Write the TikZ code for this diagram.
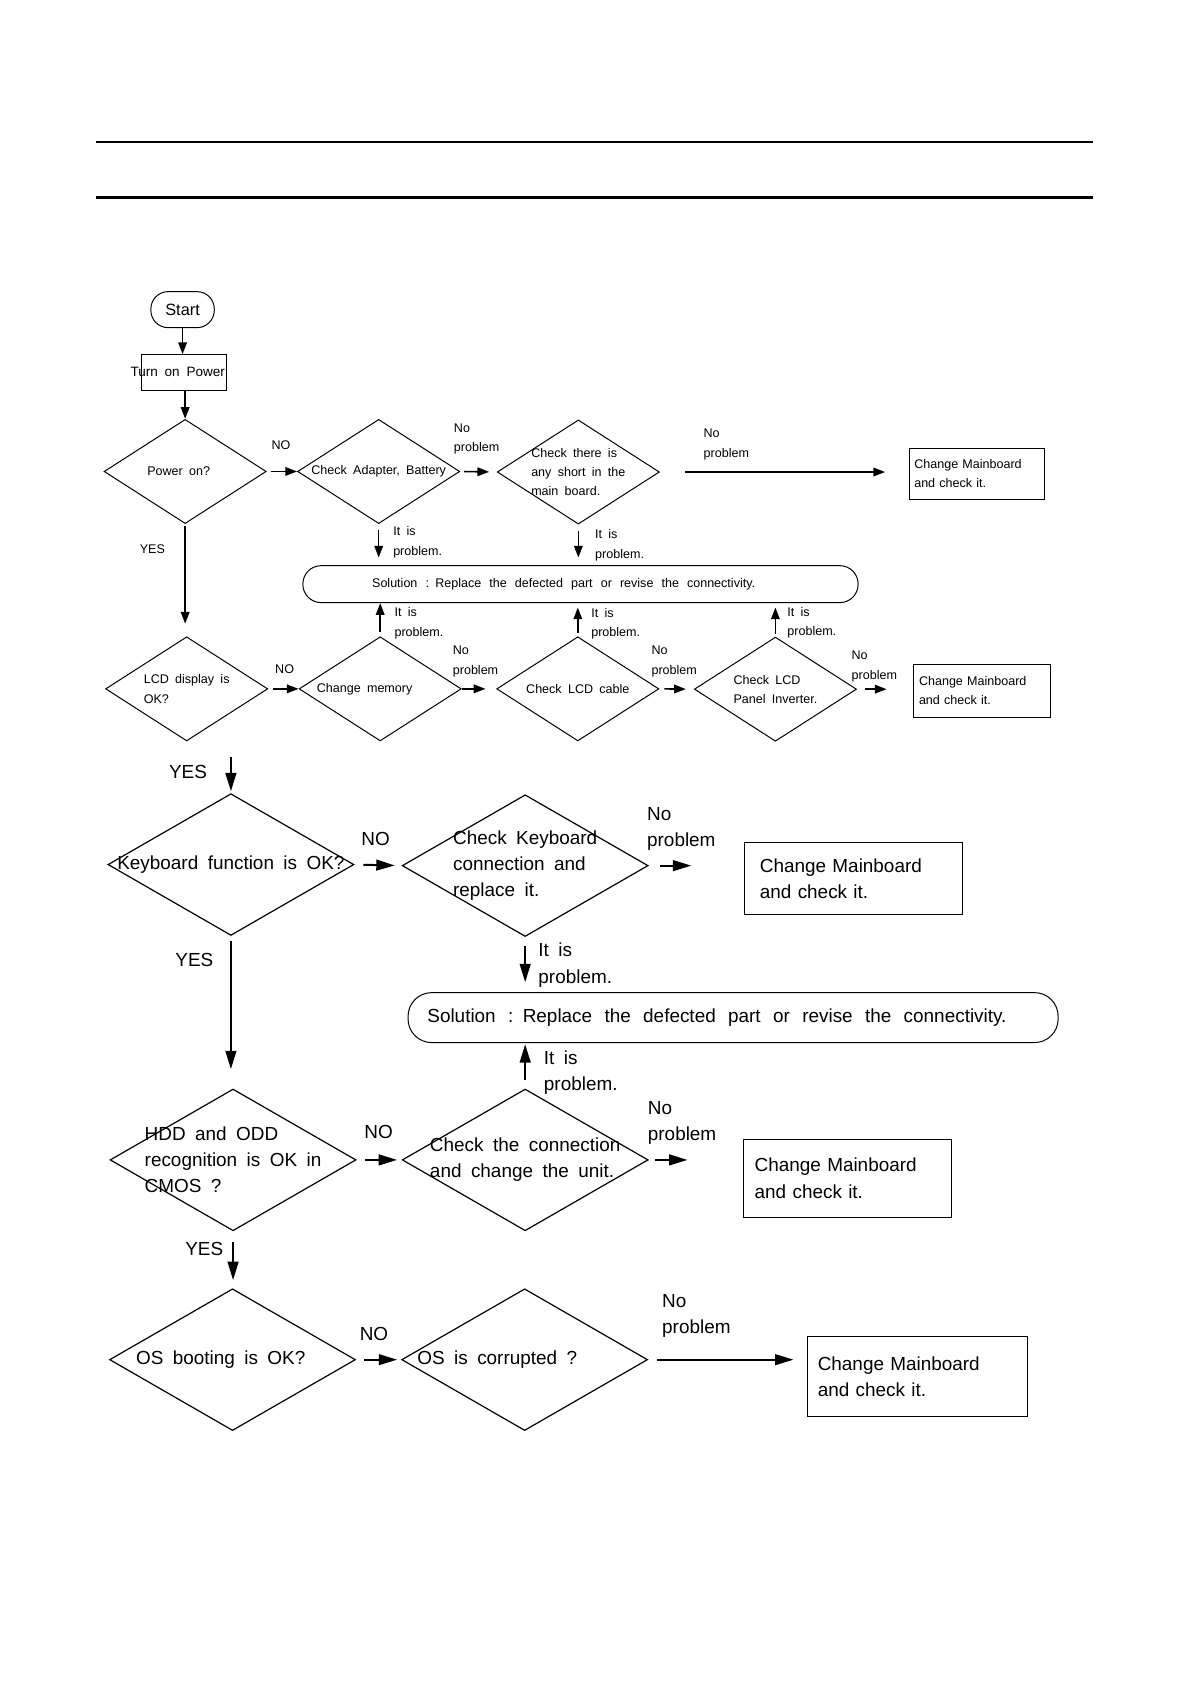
\documentclass[tikz,border=0pt]{standalone}
\usepackage{fontspec}
\setmainfont{Liberation Sans}[WordSpace=1.8]
\usetikzlibrary{shapes.geometric, arrows.meta}
\newlength{\unitpx}
\setlength{\unitpx}{0.018953cm}

\begin{document}
\begin{tikzpicture}[x=\unitpx, y=-\unitpx,
        sfont/.style={font=\fontsize{6.3}{9.7}\selectfont},
        bfont/.style={font=\fontsize{9.5}{13.2}\selectfont},
        sdia/.style={diamond, draw, line width=0.5pt, inner sep=-40pt, minimum width=151\unitpx, minimum height=97\unitpx, align=left, sfont},
        bdia/.style={diamond, draw, line width=0.6pt, inner sep=-40pt, minimum width=229\unitpx, minimum height=132\unitpx, align=left, bfont},
        mbox/.style={rectangle, draw, line width=0.5pt, inner ysep=0pt, align=left},
        sol/.style={rectangle, draw, line width=0.5pt, inner sep=0pt, align=left},
        lbl/.style={inner sep=0pt, align=left},
        flow/.style={-{Triangle[length=5.9pt, width=4.3pt]}, line width=0.8pt},
        bigflow/.style={-{Triangle[length=9.2pt, width=5.4pt]}, line width=1pt}
    ]
        \useasboundingbox (0,0) rectangle (1108,1568);

        % Page header rules
        \draw[line width=1.2pt] (89.4,132) -- (1017.7,132);
        \draw[line width=1.2pt] (89.4,184) -- (1017.7,184);

        % Power and LCD checks
        \node[draw, line width=0.5pt, rounded corners=16\unitpx, minimum width=59\unitpx, minimum height=33.5\unitpx, inner sep=0pt, font=\fontsize{8.2}{10}\selectfont] (start) at (170,288.3) {Start};
        \node[draw, line width=0.5pt, minimum width=79\unitpx, minimum height=33\unitpx, inner xsep=-20pt, inner ysep=0pt, font=\fontsize{6.8}{8}\selectfont] (power) at (171.5,346.7) {Turn on Power\hspace*{12\unitpx}};
        \node[sdia] (poweron) at (172.4,439) {Power on?\hspace*{12\unitpx}};
        \node[sdia] (adapter) at (352.6,439) {Check Adapter, Battery};
        \node[sdia] (short) at (538.5,439.5) {Check there is\\any short in the\\main board.};
        \node[mbox, text width=116.8\unitpx, inner xsep=4.6\unitpx, minimum height=47.5\unitpx, sfont] (mb1) at (909.7,441.1) {Change Mainboard\\and check it.};
        \node[sol, text width=517\unitpx, minimum height=34.4\unitpx, rounded corners=17\unitpx, sfont] (sol1) at (540.5,543.9) {\spaceskip=4.05pt\hspace*{64.5\unitpx}Solution : Replace the defected part or revise the connectivity.};
        \node[sdia] (lcd) at (173.8,641.4) {LCD display is\\OK?};
        \node[sdia] (memory) at (354,641.4) {Change memory\hspace*{29\unitpx}};
        \node[sdia] (cable) at (538,641.4) {Check LCD cable};
        \node[sdia] (inverter) at (722,641.7) {Check LCD\\Panel Inverter.};
        \node[mbox, text width=117.6\unitpx, inner xsep=4.7\unitpx, minimum height=49.4\unitpx, sfont] (mb2) at (914.5,643.2) {Change Mainboard\\and check it.};

        \draw[flow] (start.south) -- (start.south |- power.north);
        \draw[flow] (poweron.north |- power.south) -- (poweron.north);
        \draw[flow, shorten <=2.2pt] (poweron.east) -- (adapter.west);
        \draw[flow, shorten <=1.9pt, shorten >=3.8pt] (adapter.east) -- (short.west);
        \draw[flow, shorten <=12.7pt, shorten >=11.9pt] (short.east) -- (short.east -| mb1.west);
        \draw[flow, shorten <=3.2pt, shorten >=3.8pt] (adapter.south) -- (adapter.south |- sol1.north);
        \draw[flow, shorten <=3.2pt, shorten >=3.8pt] (short.south) -- (short.south |- sol1.north);
        \draw[flow, shorten <=1.1pt, shorten >=6.3pt] (poweron.south) -- (poweron.south |- lcd.north);
        \draw[flow, shorten <=2.2pt] (lcd.east) -- (memory.west);
        \draw[flow, shorten <=2.2pt] (memory.north) -- (memory.north |- sol1.south);
        \draw[flow, shorten <=0.3pt, shorten >=5.4pt] (memory.east) -- (cable.west);
        \draw[flow, shorten <=1.6pt, shorten >=2.2pt] (cable.north) -- (cable.north |- sol1.south);
        \draw[flow, shorten <=2.5pt, shorten >=4pt] (cable.east) -- (inverter.west);
        \draw[flow, shorten <=1.4pt, shorten >=2.2pt] (inverter.north) -- (inverter.north |- sol1.south);
        \draw[flow, shorten <=3.8pt, shorten >=13.5pt] (inverter.east) -- (inverter.east -| mb2.west);

        \node[lbl, sfont] (no1) at (261.6,414.4) {NO};
        \node[lbl, sfont, anchor=west] (np1) at (422.3,409) {No\\problem};
        \node[lbl, sfont, anchor=west] (np2) at (654.8,414) {No\\problem};
        \node[lbl, sfont, anchor=west] (ip1) at (365.8,505) {It is\\problem.};
        \node[lbl, sfont, anchor=west] (ip2) at (553.8,507.7) {It is\\problem.};
        \node[lbl, sfont] (yes1) at (141.9,510.9) {YES};
        \node[lbl, sfont] (no2) at (265,622.9) {NO};
        \node[lbl, sfont, anchor=west] (ip3) at (367,580.4) {It is\\problem.};
        \node[lbl, sfont, anchor=west] (np3) at (421.3,616) {No\\problem};
        \node[lbl, sfont, anchor=west] (ip4) at (550.2,580.8) {It is\\problem.};
        \node[lbl, sfont, anchor=west] (np4) at (606.3,615.8) {No\\problem};
        \node[lbl, sfont, anchor=west] (ip5) at (732.8,580) {It is\\problem.};
        \node[lbl, sfont, anchor=west] (np5) at (792.6,620.7) {No\\problem};

        % Keyboard, drives and OS checks
        \node[bdia] (keyboard) at (215,805) {Keyboard function is OK?};
        \node[bdia] (kbcheck) at (489,806) {Check Keyboard\\connection and\\replace it.};
        \node[mbox, text width=173.9\unitpx, inner xsep=14.3\unitpx, minimum height=66.7\unitpx, bfont] (mb3) at (794.5,818) {Change Mainboard\\and check it.};
        \node[sol, text width=605.3\unitpx, minimum height=46.5\unitpx, rounded corners=22\unitpx, bfont] (sol2) at (682.6,947.5) {\spaceskip=6.2pt\hspace*{18\unitpx}Solution : Replace the defected part or revise the connectivity.};
        \node[bdia] (hdd) at (217,1080) {HDD and ODD\\recognition is OK in\\CMOS ?};
        \node[bdia] (unit) at (489,1080) {Check the connection\\and change the unit.};
        \node[mbox, text width=172.8\unitpx, inner xsep=10.6\unitpx, minimum height=72.7\unitpx, bfont] (mb4) at (789.1,1097.1) {Change Mainboard\\and check it.};
        \node[bdia] (os) at (216.5,1266) {OS booting is OK?\hspace*{22\unitpx}};
        \node[bdia] (corrupt) at (488.5,1266) {OS is corrupted ?\hspace*{51\unitpx}};
        \node[mbox, text width=185.5\unitpx, inner xsep=10\unitpx, minimum height=74.5\unitpx, bfont] (mb5) at (854.2,1281.7) {Change Mainboard\\and check it.};

        \draw[bigflow, shorten <=7.8pt, shorten >=0.9pt] (keyboard.north |- lcd.south) -- (keyboard.north);
        \draw[bigflow, shorten <=4.5pt, shorten >=3.5pt] (keyboard.east) -- (kbcheck.west);
        \draw[bigflow, shorten <=5.6pt, shorten >=26.5pt] (kbcheck.east) -- (kbcheck.east -| mb3.west);
        \draw[bigflow, shorten <=4.3pt, shorten >=5pt] (kbcheck.south) -- (kbcheck.south |- sol2.north);
        \draw[bigflow, shorten <=2.4pt, shorten >=9.7pt] (keyboard.south) -- (keyboard.south |- hdd.north);
        \draw[bigflow, shorten <=4.1pt, shorten >=2.3pt] (hdd.east) -- (unit.west);
        \draw[bigflow, shorten <=4.3pt, shorten >=0.6pt] (unit.north) -- (unit.north |- sol2.south);
        \draw[bigflow, shorten <=3.2pt, shorten >=27.8pt] (unit.east) -- (unit.east -| mb4.west);
        \draw[bigflow, shorten <=5.4pt, shorten >=4.1pt] (hdd.south) -- (hdd.south |- os.north);
        \draw[bigflow, shorten <=4.1pt, shorten >=2pt] (os.east) -- (corrupt.west);
        \draw[bigflow, shorten <=4.3pt, shorten >=6.6pt] (corrupt.east) -- (corrupt.east -| mb5.west);

        \node[lbl, bfont] (yes2) at (175,719) {YES};
        \node[lbl, bfont] (no3) at (349.8,781) {NO};
        \node[lbl, bfont, anchor=west] (np6) at (602.2,772) {No\\problem};
        \node[lbl, bfont, anchor=west] (ip6) at (501,898.7) {It is\\problem.};
        \node[lbl, bfont] (yes3) at (181,894) {YES};
        \node[lbl, bfont] (no4) at (352.5,1053.7) {NO};
        \node[lbl, bfont, anchor=west] (ip7) at (506.1,999) {It is\\problem.};
        \node[lbl, bfont, anchor=west] (np7) at (602.9,1045.6) {No\\problem};
        \node[lbl, bfont] (yes4) at (190.2,1163) {YES};
        \node[lbl, bfont] (no5) at (348.2,1242.4) {NO};
        \node[lbl, bfont, anchor=west] (np8) at (616.2,1225.6) {No\\problem};

\end{tikzpicture}
\end{document}
